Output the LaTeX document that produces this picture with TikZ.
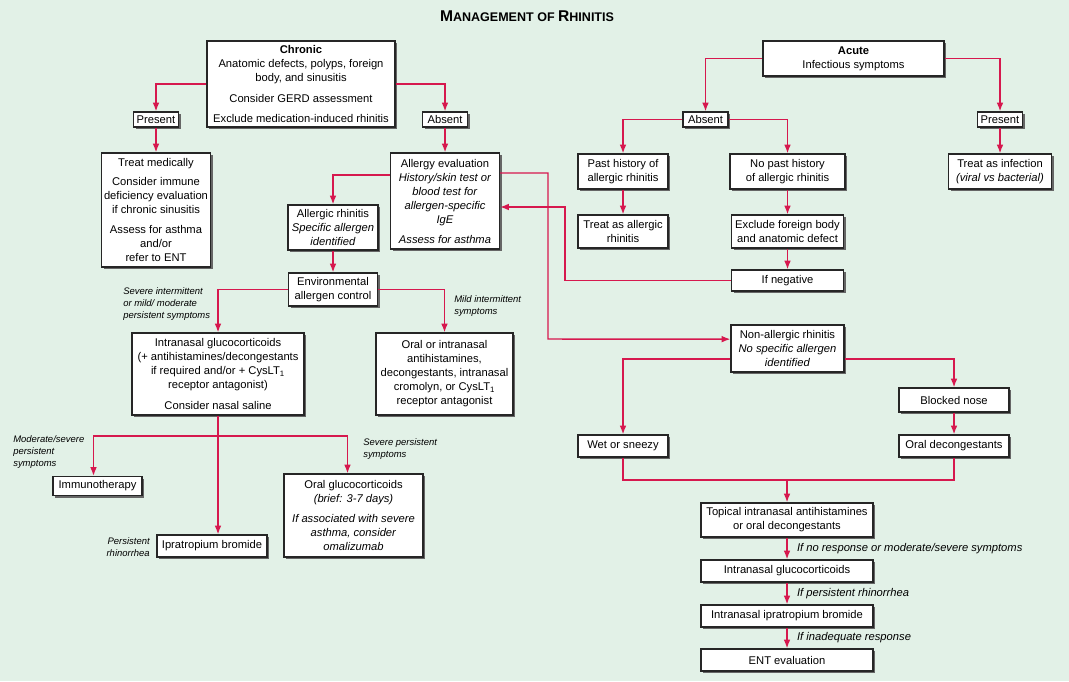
\documentclass[tikz,border=0pt]{standalone}
\usepackage{fontspec}
\setmainfont{Liberation Sans}
\usetikzlibrary{arrows.meta,shadows}
\definecolor{bgmint}{RGB}{226,241,231}
\definecolor{linkred}{RGB}{214,24,78}

\begin{document}
\begin{tikzpicture}[x=0.75pt,y=-0.75pt]
\tikzstyle{every node}+=[inner sep=0pt, font=\fontsize{8.4}{10.5}\selectfont]
\tikzstyle{box}=[draw=black!85, line width=0.9pt, fill=white, align=center, drop shadow={shadow xshift=1.8pt, shadow yshift=-1.8pt, fill=black!60, opacity=1}]
\tikzstyle{link}=[draw=linkred, line width=1.1pt, -{Latex[length=6.5pt,width=5pt]}]
\tikzstyle{line}=[draw=linkred, line width=1.1pt]
\tikzstyle{note}=[font=\fontsize{7.1}{9}\selectfont\itshape, align=left]
\tikzstyle{step note}=[font=\fontsize{8.4}{10.5}\selectfont\itshape]
\fill [bgmint] (0,0) rectangle (1069,681);
\useasboundingbox (0,0) rectangle (1069,681);
\node (title) at (527,16) {\bfseries\fontsize{11.7}{14}\selectfont M\fontsize{9.4}{14}\selectfont ANAGEMENT OF \fontsize{11.7}{14}\selectfont R\fontsize{9.4}{14}\selectfont HINITIS};
\node [box, minimum width=141pt, minimum height=64.5pt] (chronic) at (301,84) {\textbf{Chronic}\\Anatomic defects, polyps, foreign\\body, and sinusitis\\[5pt]Consider GERD assessment\\[5pt]Exclude medication-induced rhinitis};
\node [box, minimum width=33.75pt, minimum height=11.25pt] (presentL) at (156,119.5) {Present};
\node [box, minimum width=33.75pt, minimum height=11.25pt] (absentL) at (445,119.5) {Absent};
\node [box, minimum width=135.75pt, minimum height=26.25pt] (acute) at (853.5,58.5) {\textbf{Acute}\\Infectious symptoms};
\node [box, minimum width=33.75pt, minimum height=11.25pt] (absentR) at (705.5,119.5) {Absent};
\node [box, minimum width=33.75pt, minimum height=11.25pt] (presentR) at (1000,119.5) {Present};
\node [box, minimum width=81.75pt, minimum height=85.5pt] (treatmed) at (156,210) {Treat medically\\[4pt]Consider immune\\deficiency evaluation\\if chronic sinusitis\\[4.5pt]Assess for asthma\\and/or\\refer to ENT};
\node [box, minimum width=81.75pt, minimum height=72pt] (allergy) at (445,201) {Allergy evaluation\\\textit{History/skin test or}\\\textit{blood test for}\\\textit{allergen-specific}\\\textit{IgE}\\[4.5pt]\textit{Assess for asthma}};
\node [box, minimum width=67.5pt, minimum height=26.25pt] (pasthist) at (623,171.5) {Past history of\\allergic rhinitis};
\node [box, minimum width=86.25pt, minimum height=26.25pt] (nopast) at (787.5,171.5) {No past history\\of allergic rhinitis};
\node [box, minimum width=77.25pt, minimum height=26.25pt] (treatinf) at (1000,171.5) {Treat as infection\\\textit{(viral vs bacterial)}};
\node [box, minimum width=67.5pt, minimum height=24.75pt] (treatall) at (623,231.5) {Treat as allergic\\rhinitis};
\node [box, minimum width=84pt, minimum height=24.75pt] (exclude) at (787.5,231.5) {Exclude foreign body\\and anatomic defect};
\node [box, minimum width=84pt, minimum height=15.75pt] (ifneg) at (787.5,280.5) {If negative};
\node [box, minimum width=67.5pt, minimum height=33.75pt] (allergic) at (333,227.5) {Allergic rhinitis\\\textit{Specific allergen}\\\textit{identified}};
\node [box, minimum width=66.75pt, minimum height=24.75pt] (env) at (333,289.5) {Environmental\\allergen control};
\node [box, minimum width=129pt, minimum height=61.5pt] (intranasal) at (218,374) {Intranasal glucocorticoids\\(+ antihistamines/decongestants\\if required and/or + CysLT\textsubscript{1}\\receptor antagonist)\\[5pt]Consider nasal saline};
\node [box, minimum width=102.75pt, minimum height=61.5pt] (oralintra) at (444.5,374) {Oral or intranasal\\antihistamines,\\decongestants, intranasal\\cromolyn, or CysLT\textsubscript{1}\\receptor antagonist};
\node [box, minimum width=84.75pt, minimum height=35.25pt] (nonall) at (787.5,348.5) {Non-allergic rhinitis\\\textit{No specific allergen}\\\textit{identified}};
\node [box, minimum width=66.75pt, minimum height=14.25pt] (immuno) at (97.5,486) {Immunotherapy};
\node [box, minimum width=104.25pt, minimum height=62.25pt] (oralgluco) at (353.5,515.5) {Oral glucocorticoids\\\textit{(brief: 3-7 days)}\\[5pt]\textit{If associated with severe}\\\textit{asthma, consider}\\\textit{omalizumab}};
\node [box, minimum width=82.5pt, minimum height=16.5pt] (ipra) at (212,546) {Ipratropium bromide};
\node [box, minimum width=82.5pt, minimum height=18pt] (blocked) at (954,400) {Blocked nose};
\node [box, minimum width=82.5pt, minimum height=16.5pt] (oraldec) at (954,446) {Oral decongestants};
\node [box, minimum width=67.5pt, minimum height=16.5pt] (wet) at (623,446) {Wet or sneezy};
\node [box, minimum width=129pt, minimum height=25.5pt] (topical) at (787,520) {Topical intranasal antihistamines\\or oral decongestants};
\node [box, minimum width=129pt, minimum height=16.5pt] (intraR) at (787,571) {Intranasal glucocorticoids};
\node [box, minimum width=129pt, minimum height=16.5pt] (ipraR) at (787,616) {Intranasal ipratropium bromide};
\node [box, minimum width=129pt, minimum height=16.5pt] (ent) at (787,660) {ENT evaluation};
\node [note, anchor=west] (sevint) at (123,304) {Severe intermittent\\or mild/ moderate\\persistent symptoms};
\node [note, anchor=west] (mildint) at (454,306) {Mild intermittent\\symptoms};
\node [note, anchor=west] (modsev) at (13,452) {Moderate/severe\\persistent\\symptoms};
\node [note, anchor=west] (sevpers) at (363,449) {Severe persistent\\symptoms};
\node [note, anchor=east, align=right] (persrh) at (150,547) {Persistent\\rhinorrhea};
\coordinate (negbend) at (565,207);
\coordinate (nonbend) at (548,339);
\coordinate (split) at (218,436);
\coordinate (merge) at (787,480);
\draw [link] (chronic.west) -| (presentL.north);
\draw [link] (chronic.east) -| (absentL.north);
\draw [link] (presentL) -- (treatmed);
\draw [link] (absentL) -- (allergy);
\draw [link] (acute.west) -| (absentR.north);
\draw [link] (acute.east) -| (presentR.north);
\draw [link] (absentR.west) -| (pasthist.north);
\draw [link] (absentR.east) -| (nopast.north);
\draw [link] (presentR) -- (treatinf);
\draw [link] (pasthist) -- (treatall);
\draw [link] (nopast) -- (exclude);
\draw [link] (exclude) -- (ifneg);
\draw [link] (ifneg.west) -| (negbend) -- ([yshift=-4.5pt]allergy.east);
\draw [link] ([yshift=21pt]allergy.east) -| (nonbend) -- ([yshift=7pt]nonall.west);
\draw [link] ([yshift=19.5pt]allergy.west) -| (allergic.north);
\draw [link] (allergic) -- (env);
\draw [link] (env.west) -| (intranasal.north);
\draw [link] (env.east) -| (oralintra.north);
\draw [line] (intranasal.south) -- (split);
\draw [link] (split) -| ([xshift=-3pt]immuno.north);
\draw [link] (split) -| ([xshift=-4.5pt]oralgluco.north);
\draw [link] (split) -- (split |- ipra.north);
\draw [link] ([yshift=-8pt]nonall.west) -| (wet.north);
\draw [link] ([yshift=-8pt]nonall.east) -| (blocked.north);
\draw [link] (blocked) -- (oraldec);
\draw [line] (wet.south) |- (merge) -| (oraldec.south);
\draw [link] (merge) -- (topical.north);
\draw [link] (topical) -- node [step note, right=7pt] (ifnoresp) {If no response or moderate/severe symptoms} (intraR);
\draw [link] (intraR) -- node [step note, right=7pt] (ifpers) {If persistent rhinorrhea} (ipraR);
\draw [link] (ipraR) -- node [step note, right=7pt] (ifinad) {If inadequate response} (ent);
\end{tikzpicture}
\end{document}
